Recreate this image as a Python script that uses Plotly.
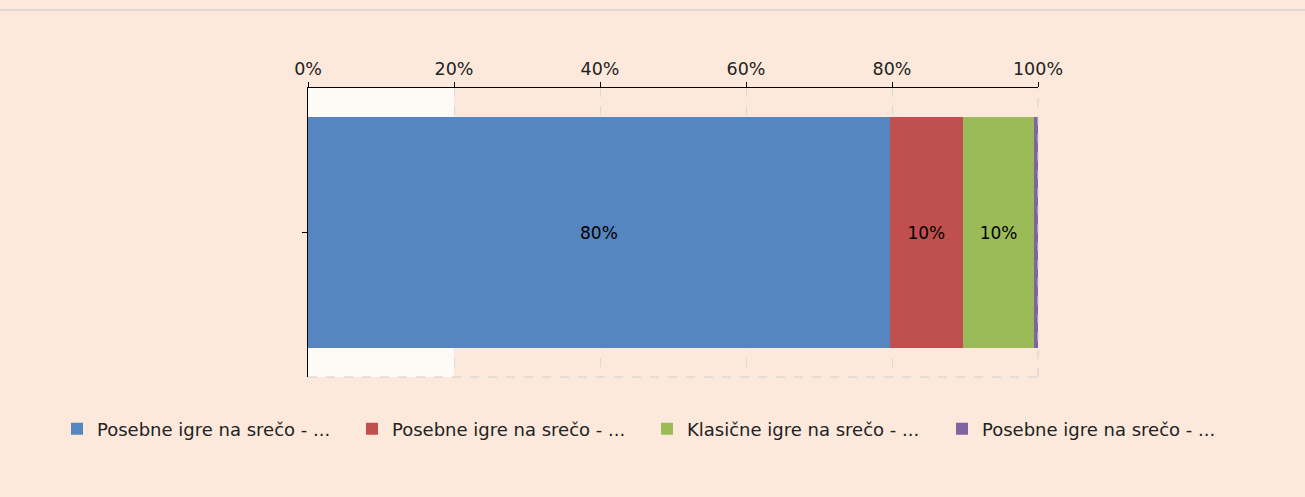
import plotly.graph_objects as go

series_names = ["Posebne igre na srečo - ...", "Posebne igre na srečo - ...",
                "Klasične igre na srečo - ...", "Posebne igre na srečo - ..."]
series_values = [79.7, 10.0, 9.8, 0.5]
colors = ["#5586BF", "#C0504D", "#9BBB59", "#8064A2"]
tick_vals = [0, 20, 40, 60, 80, 100]
tick_labels = ["0%", "20%", "40%", "60%", "80%", "100%"]

BG = "#FCE9DB"
FONT = "DejaVu Sans"
W, H = 1305, 497

fig = go.Figure()
for name, v, c in zip(series_names, series_values, colors):
    fig.add_trace(go.Bar(
        y=[0], x=[v], orientation="h", name=name,
        marker=dict(color=c, line=dict(width=0)),
        text=[f"{round(v)}%" if v >= 1 else ""],
        textposition="inside", insidetextanchor="middle",
        textfont=dict(color="black", size=17, family=FONT),
        hoverinfo="name+x",
    ))

fig.update_layout(
    barmode="stack",
    bargap=0.2,
    width=W, height=H,
    margin=dict(l=0, r=0, t=88, b=120, autoexpand=False),
    paper_bgcolor=BG, plot_bgcolor="rgba(0,0,0,0)",
    font=dict(family=FONT, size=17, color="#222"),
    showlegend=True,
    legend=dict(orientation="h", xref="paper", x=57 / W, xanchor="left",
                yref="container", y=1 - 429 / H, yanchor="middle",
                traceorder="normal", entrywidth=250, entrywidthmode="pixels",
                font=dict(size=18, family=FONT, color="#222"), itemwidth=30),
    xaxis=dict(domain=[308 / W, 1038 / W], side="top", range=[0, 100],
               tickvals=tick_vals, ticktext=tick_labels,
               ticks="outside", ticklen=5, tickcolor="black", showline=True,
               linecolor="black", linewidth=1, showgrid=True, gridcolor="#D9D9D9",
               griddash="dash", gridwidth=1, zeroline=False, fixedrange=True,
               tickfont=dict(size=17.5), automargin=False),
    yaxis=dict(range=[-0.5, 0.5], tickvals=[0], ticktext=[""], ticks="outside",
               ticklen=5, tickcolor="black", showline=True, linecolor="black",
               linewidth=1.3, showgrid=False, zeroline=False, fixedrange=True,
               automargin=False),
    shapes=[
        dict(type="rect", xref="x", yref="paper", x0=0, x1=20, y0=0, y1=1,
             fillcolor="white", opacity=0.75, line=dict(width=0), layer="below"),
        dict(type="line", xref="x domain", yref="paper", x0=1, x1=1, y0=0, y1=1,
             line=dict(color="#D0D0D0", width=1, dash="dash")),
        dict(type="line", xref="x domain", yref="paper", x0=0, x1=1, y0=0, y1=0,
             line=dict(color="#D0D0D0", width=1, dash="dash")),
        dict(type="line", xref="paper", yref="paper", x0=0, x1=1, y0=1.27, y1=1.27,
             line=dict(color="#D6D0CC", width=1.5)),
    ],
)

fig.write_html("out.html", config={"displayModeBar": False},
               post_script="document.body.style.margin='0';document.body.style.background='#FCE9DB';")
